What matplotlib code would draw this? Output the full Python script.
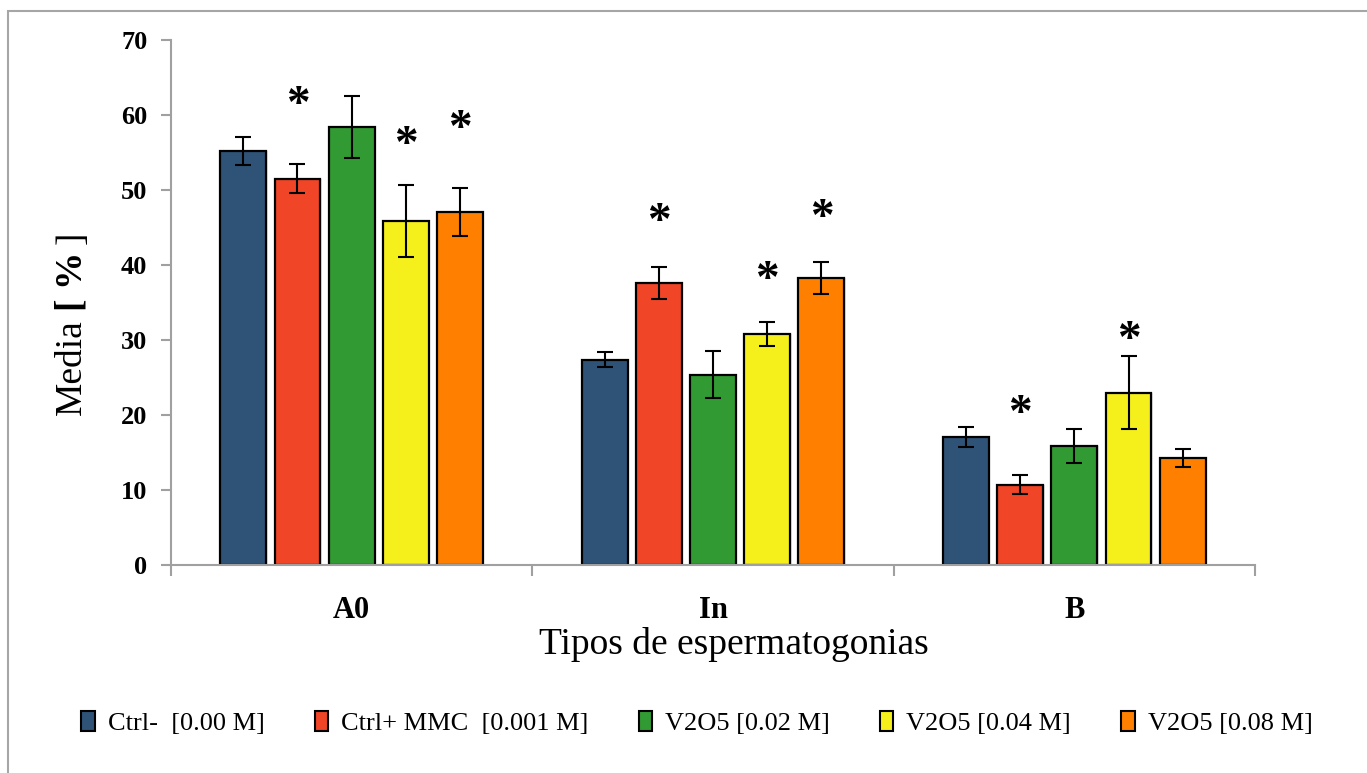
import numpy as np
import matplotlib
matplotlib.use("Agg")
import matplotlib.pyplot as plt
from matplotlib.patches import Rectangle, Patch

# data
categories = ["A0", "In", "B"]
groups = ["Ctrl-  [0.00 M]", "Ctrl+ MMC  [0.001 M]", "V2O5 [0.02 M]",
          "V2O5 [0.04 M]", "V2O5 [0.08 M]"]
colors = ["#2E5377", "#F04527", "#329A32", "#F5F01B", "#FF7F00"]

ctrl_neg = [55.2, 27.4, 17.1]
ctrl_pos = [51.5, 37.6, 10.7]
v_002 = [58.4, 25.4, 15.9]
v_004 = [45.9, 30.8, 23.0]
v_008 = [47.1, 38.3, 14.3]

err_neg = [1.9, 1.0, 1.35]
err_pos = [1.95, 2.1, 1.25]
err_002 = [4.1, 3.1, 2.3]
err_004 = [4.8, 1.6, 4.9]
err_008 = [3.2, 2.1, 1.2]

# significance marks: (category, group, height)
stars = [(0, 1, 62.4), (0, 3, 57.1), (0, 4, 59.2),
         (1, 1, 46.8), (1, 3, 39.1), (1, 4, 47.3),
         (2, 1, 21.2), (2, 3, 31.1)]

series = [ctrl_neg, ctrl_pos, v_002, v_004, v_008]
errors = [err_neg, err_pos, err_002, err_004, err_008]

plt.rcParams['font.family'] = ['Liberation Serif', 'DejaVu Serif']

fig = plt.figure(figsize=(13.67, 7.73), dpi=100)
ax = fig.add_axes([171/1367, 1-565/773, (1255-171)/1367, (565-40)/773])

x = np.arange(len(categories))
step = 0.15
width = 0.127
for i in range(len(series)):
    pos = x + (i - 2) * step
    # soft shadow behind the bars
    ax.bar(pos + 0.004, series[i], width, color="#cccccc", alpha=0.5,
           linewidth=0, zorder=1)
    ax.bar(pos, series[i], width, color=colors[i], edgecolor="black",
           linewidth=1.6, zorder=2)
    ax.errorbar(pos, series[i], yerr=errors[i], fmt="none", ecolor="black",
                elinewidth=1.5, capsize=6, capthick=1.5, zorder=3)

for c, g, h in stars:
    ax.annotate("*", (c + (g - 2) * step, h), xytext=(0, -6.5),
                textcoords="offset points", ha="center", va="center",
                fontsize=34, fontweight="bold")

ax.set_xlim(-0.5, 2.5)
ax.set_ylim(0, 70)
ax.set_yticks(range(0, 71, 10))
for lab in ax.get_yticklabels():
    lab.set_fontweight("bold")
ax.tick_params(axis="y", labelsize=19, length=7, color="#a0a0a0", width=1.5, pad=10)

ax.set_xticks(x)
ax.set_xticklabels(categories, fontsize=22, fontweight="bold")
ax.set_xticks([-0.5, 0.5, 1.5, 2.5], minor=True)
ax.tick_params(axis="x", which="major", length=0, pad=22)
ax.tick_params(axis="x", which="minor", length=8, color="#a0a0a0", width=1.5)

for s in ["top", "right"]:
    ax.spines[s].set_visible(False)
for s in ["left", "bottom"]:
    ax.spines[s].set_color("#a0a0a0")
    ax.spines[s].set_linewidth(1.5)

fig.text((171+1297)/2/1367, 1-645/773, "Tipos de espermatogonias",
         ha="center", va="center", fontsize=27)
fig.text(72/1367, 1-415/773, "Media", rotation=90, ha="center", va="bottom",
         fontsize=27)
fig.text(72/1367, 1-311/773, "[ %", rotation=90, ha="center", va="bottom",
         fontsize=27, fontweight="bold")
fig.text(72/1367, 1-232/773, "]", rotation=90, ha="center", va="top",
         fontsize=27)

handles = [Patch(facecolor=colors[i], edgecolor="black", linewidth=1.5)
           for i in range(len(groups))]
fig.legend(handles, groups, loc="center", bbox_to_anchor=(697/1367, 1-723/773),
           ncol=5, frameon=False, fontsize=19, handlelength=0.5, handleheight=0.8,
           handletextpad=0.5, columnspacing=1.9)

fig.patches.append(Rectangle((8/1367, -0.1), 1.2, 1.1 - 11/773,
                             transform=fig.transFigure, fill=False,
                             edgecolor="#a6a6a6", linewidth=1.5))

fig.savefig("out.png", dpi=100)
